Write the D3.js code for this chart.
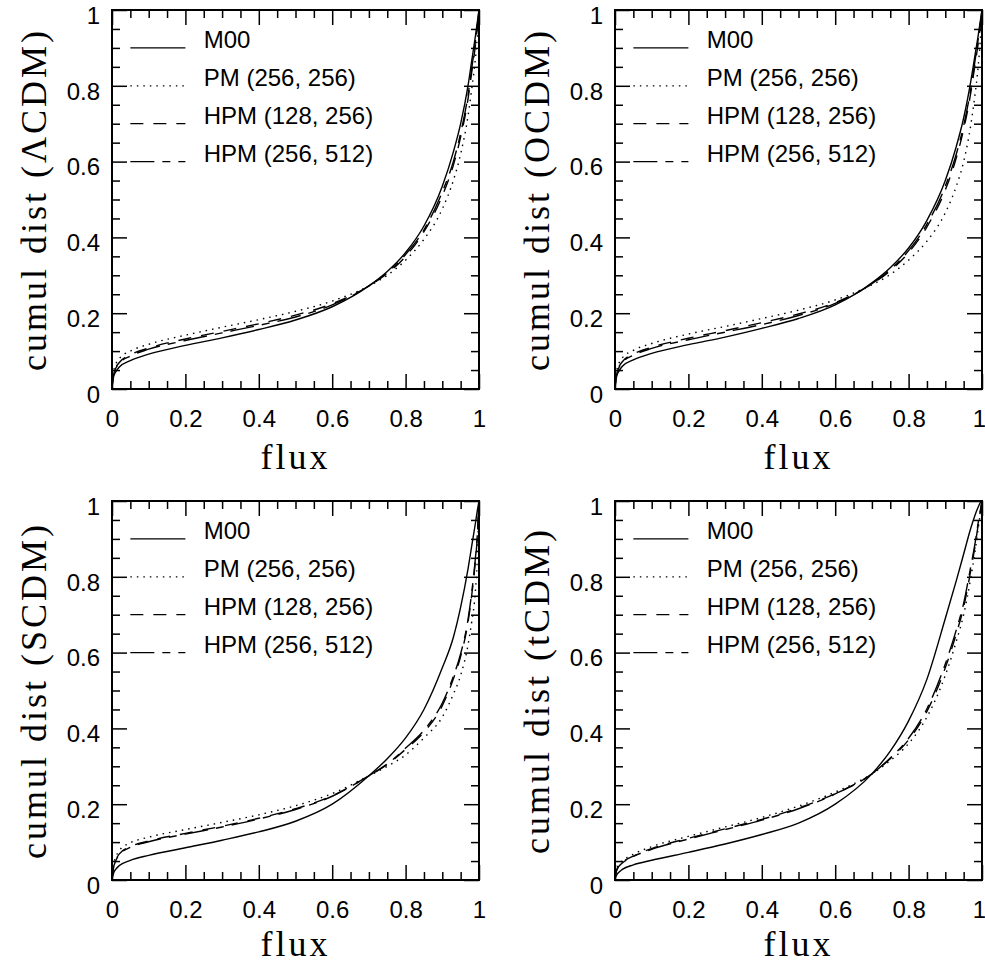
<!DOCTYPE html>
<html lang="en">
<head>
    <meta charset="UTF-8">
    <title>cumul dist vs flux</title>
    <script src="https://cdn.jsdelivr.net/npm/d3@7"></script>
    <style>
        body {
            margin: 0;
            background-color: #ffffff;
        }

        text.tick-label {
            font-family: "Liberation Sans", Arial, sans-serif;
            font-size: 24px;
            fill: #000;
        }

        text.legend-label {
            font-family: "Liberation Sans", Arial, sans-serif;
            font-size: 24px;
            fill: #000;
        }

        text.axis-title {
            font-family: "Liberation Serif", serif;
            font-size: 36px;
            letter-spacing: 3px;
            fill: #000;
        }

        path.curve {
            fill: none;
            stroke: #000;
            stroke-width: 1.4px;
        }
    </style>
</head>
<body>
<div id="chart"></div>
<script type="text/javascript">
    // flux sample points shared by all curves
    var flux = [0, 0.002, 0.005, 0.01, 0.02, 0.05, 0.1, 0.2, 0.3, 0.4, 0.5, 0.6, 0.7, 0.75, 0.8, 0.85, 0.9, 0.93, 0.95, 0.97, 0.98, 0.99, 0.995, 1];

    var seriesNames = ["M00", "PM (256, 256)", "HPM (128, 256)", "HPM (256, 512)"];
    var panelNames = ["\u039BCDM", "OCDM", "SCDM", "tCDM"];
    var tickValues = [0, 0.2, 0.4, 0.6, 0.8, 1];

    // LCDM
    var lcdm_m00    = [0, 0.02, 0.035, 0.045, 0.058, 0.075, 0.092, 0.115, 0.135, 0.157, 0.182, 0.217, 0.272, 0.31, 0.36, 0.43, 0.535, 0.625, 0.70, 0.80, 0.865, 0.93, 0.965, 1];
    var lcdm_pm     = [0, 0.03, 0.05, 0.065, 0.08, 0.1, 0.118, 0.142, 0.163, 0.183, 0.205, 0.232, 0.272, 0.30, 0.34, 0.395, 0.475, 0.55, 0.62, 0.72, 0.79, 0.87, 0.925, 1];
    var lcdm_hpm128 = [0, 0.025, 0.043, 0.056, 0.07, 0.09, 0.108, 0.132, 0.152, 0.172, 0.195, 0.225, 0.272, 0.305, 0.35, 0.415, 0.51, 0.59, 0.665, 0.765, 0.835, 0.905, 0.95, 1];
    var lcdm_hpm256 = [0, 0.024, 0.041, 0.054, 0.068, 0.087, 0.105, 0.128, 0.148, 0.168, 0.19, 0.222, 0.272, 0.307, 0.355, 0.42, 0.52, 0.60, 0.675, 0.775, 0.845, 0.915, 0.955, 1];

    // OCDM
    var ocdm_m00    = [0, 0.02, 0.035, 0.046, 0.06, 0.077, 0.094, 0.117, 0.137, 0.16, 0.186, 0.222, 0.28, 0.32, 0.372, 0.445, 0.55, 0.64, 0.715, 0.815, 0.875, 0.935, 0.968, 1];
    var ocdm_pm     = [0, 0.03, 0.05, 0.066, 0.082, 0.102, 0.12, 0.145, 0.165, 0.186, 0.208, 0.235, 0.275, 0.302, 0.34, 0.39, 0.465, 0.535, 0.6, 0.7, 0.77, 0.855, 0.915, 1];
    var ocdm_hpm128 = [0, 0.025, 0.043, 0.057, 0.072, 0.092, 0.11, 0.134, 0.154, 0.175, 0.198, 0.228, 0.277, 0.312, 0.36, 0.428, 0.525, 0.61, 0.685, 0.785, 0.85, 0.915, 0.955, 1];
    var ocdm_hpm256 = [0, 0.024, 0.041, 0.055, 0.07, 0.089, 0.107, 0.13, 0.15, 0.17, 0.194, 0.226, 0.278, 0.315, 0.365, 0.435, 0.535, 0.62, 0.695, 0.795, 0.86, 0.925, 0.96, 1];

    // SCDM
    var scdm_m00    = [0, 0.01, 0.02, 0.028, 0.038, 0.052, 0.065, 0.085, 0.105, 0.127, 0.155, 0.2, 0.275, 0.32, 0.375, 0.45, 0.56, 0.64, 0.72, 0.82, 0.88, 0.94, 0.972, 1];
    var scdm_pm     = [0, 0.025, 0.045, 0.06, 0.078, 0.098, 0.113, 0.133, 0.152, 0.172, 0.196, 0.228, 0.275, 0.3, 0.33, 0.375, 0.43, 0.49, 0.54, 0.62, 0.68, 0.76, 0.84, 1];
    var scdm_hpm128 = [0, 0.02, 0.038, 0.052, 0.069, 0.088, 0.103, 0.123, 0.142, 0.163, 0.188, 0.222, 0.275, 0.305, 0.345, 0.39, 0.46, 0.53, 0.59, 0.68, 0.75, 0.84, 0.9, 1];
    var scdm_hpm256 = [0, 0.019, 0.036, 0.05, 0.067, 0.086, 0.101, 0.121, 0.14, 0.161, 0.186, 0.221, 0.275, 0.306, 0.348, 0.395, 0.467, 0.537, 0.597, 0.687, 0.757, 0.847, 0.905, 1];

    // tCDM
    var tcdm_m00    = [0, 0.008, 0.014, 0.02, 0.028, 0.04, 0.052, 0.073, 0.095, 0.12, 0.15, 0.2, 0.28, 0.34, 0.42, 0.53, 0.69, 0.79, 0.86, 0.93, 0.96, 0.985, 0.995, 1];
    var tcdm_pm     = [0, 0.02, 0.03, 0.04, 0.05, 0.068, 0.088, 0.115, 0.14, 0.165, 0.195, 0.232, 0.28, 0.315, 0.36, 0.43, 0.54, 0.63, 0.70, 0.80, 0.86, 0.93, 0.965, 1];
    var tcdm_hpm128 = [0, 0.017, 0.027, 0.036, 0.046, 0.063, 0.083, 0.11, 0.135, 0.16, 0.19, 0.228, 0.28, 0.32, 0.37, 0.445, 0.56, 0.65, 0.72, 0.82, 0.875, 0.94, 0.97, 1];
    var tcdm_hpm256 = [0, 0.016, 0.026, 0.035, 0.045, 0.062, 0.081, 0.108, 0.133, 0.158, 0.188, 0.227, 0.28, 0.322, 0.374, 0.452, 0.57, 0.66, 0.73, 0.83, 0.882, 0.945, 0.972, 1];

    var panelSeries = [
        [lcdm_m00, lcdm_pm, lcdm_hpm128, lcdm_hpm256],
        [ocdm_m00, ocdm_pm, ocdm_hpm128, ocdm_hpm256],
        [scdm_m00, scdm_pm, scdm_hpm128, scdm_hpm256],
        [tcdm_m00, tcdm_pm, tcdm_hpm128, tcdm_hpm256]
    ];

    // line styles per series: solid, dotted, dashed, long-short dash
    var dashes = [null, "1.5,5", "13,10", "24,8,8,8"];

    const width = 367,
        height = 379,
        panelPos = [[112, 10], [615, 10], [112, 501], [615, 501]];

    const svg = d3.select("#chart").append("svg")
        .attr("width", 985)
        .attr("height", 962);

    var x = d3.scaleLinear().domain([0, 1]).range([0, width]);
    var y = d3.scaleLinear().domain([0, 1]).range([height, 0]);
    var minorTicks = d3.range(0, 1.0001, 0.05).filter(function (v) { return Math.round(v * 100) % 20 !== 0; });

    var line = d3.line()
        .x(function (d) { return x(d[0]); })
        .y(function (d) { return y(d[1]); })
        .curve(d3.curveMonotoneX);

    panelSeries.forEach(function (series, p) {
        var g = svg.append("g")
            .attr("transform", "translate(" + panelPos[p][0] + "," + panelPos[p][1] + ")");

        // major ticks (with labels on bottom/left), minor ticks, all pointing inward
        var xAxis = g.append("g").attr("transform", "translate(0," + height + ")")
            .call(d3.axisBottom(x).tickValues(tickValues).tickSizeInner(-15).tickSizeOuter(0).tickPadding(21).tickFormat(function (d) { return "" + d; }));
        if (p % 2 === 1) {
            // keep the last label inside the page on the right column
            xAxis.selectAll("text").filter(function (d) { return d === 1; }).attr("dx", "-3");
        }
        g.append("g").attr("transform", "translate(0," + height + ")")
            .call(d3.axisBottom(x).tickValues(minorTicks).tickSizeInner(-8).tickSizeOuter(0).tickFormat(""));
        g.append("g")
            .call(d3.axisTop(x).tickValues(tickValues).tickSizeInner(-15).tickSizeOuter(0).tickFormat(""));
        g.append("g")
            .call(d3.axisTop(x).tickValues(minorTicks).tickSizeInner(-8).tickSizeOuter(0).tickFormat(""));
        var yAxis = g.append("g")
            .call(d3.axisLeft(y).tickValues(tickValues).tickSizeInner(-15).tickSizeOuter(0).tickPadding(12).tickFormat(function (d) { return "" + d; }));
        yAxis.selectAll("text").attr("dy", "0.55em");
        g.append("g")
            .call(d3.axisLeft(y).tickValues(minorTicks).tickSizeInner(-8).tickSizeOuter(0).tickFormat(""));
        g.append("g").attr("transform", "translate(" + width + ",0)")
            .call(d3.axisRight(y).tickValues(tickValues).tickSizeInner(-15).tickSizeOuter(0).tickFormat(""));
        g.append("g").attr("transform", "translate(" + width + ",0)")
            .call(d3.axisRight(y).tickValues(minorTicks).tickSizeInner(-8).tickSizeOuter(0).tickFormat(""));

        g.selectAll(".domain").remove();
        g.selectAll(".tick line").attr("stroke", "#000").attr("stroke-width", 1.5);
        g.selectAll(".tick text").attr("class", "tick-label").attr("font-family", null).attr("font-size", null);

        g.append("rect")
            .attr("width", width)
            .attr("height", height)
            .attr("fill", "none")
            .attr("stroke", "#000")
            .attr("stroke-width", 2);

        // curves
        series.forEach(function (vals, s) {
            g.append("path")
                .datum(flux.map(function (f, i) { return [f, vals[i]]; }))
                .attr("class", "curve")
                .attr("stroke-dasharray", dashes[s])
                .attr("d", line);
        });

        // legend
        seriesNames.forEach(function (name, s) {
            var ly = 0.9 - 0.1 * s;
            g.append("line")
                .attr("x1", x(0.05)).attr("x2", x(0.2))
                .attr("y1", y(ly)).attr("y2", y(ly))
                .attr("stroke", "#000")
                .attr("stroke-width", 1.3)
                .attr("stroke-dasharray", dashes[s]);
            g.append("text")
                .attr("class", "legend-label")
                .attr("x", x(0.25))
                .attr("y", y(ly))
                .text(name);
        });

        // axis titles
        g.append("text")
            .attr("class", "axis-title")
            .attr("text-anchor", "middle")
            .attr("x", width / 2)
            .attr("y", height + (p < 2 ? 80 : 76))
            .text("flux");
        g.append("text")
            .attr("class", "axis-title")
            .attr("text-anchor", "middle")
            .attr("transform", "translate(-66," + (height / 2) + ") rotate(-90)")
            .text("cumul dist (" + panelNames[p] + ")");
    });
</script>
</body>
</html>
